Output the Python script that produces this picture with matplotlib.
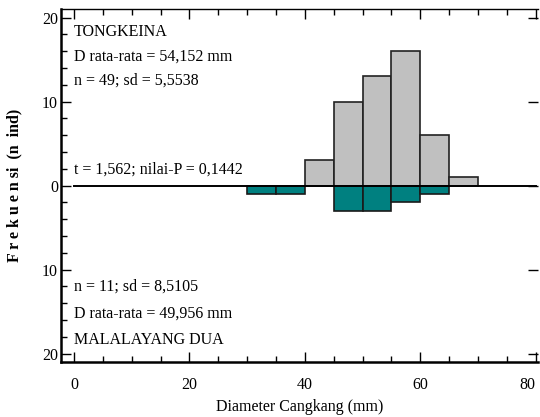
import matplotlib
matplotlib.use("Agg")
import matplotlib.pyplot as plt
import numpy as np
from matplotlib.ticker import MultipleLocator, FuncFormatter

# Data
bin_left = [30, 35, 40, 45, 50, 55, 60, 65]
tongkeina = [0, 0, 3, 10, 13, 16, 6, 1]
malalayang = [1, 1, 0, 3, 3, 2, 1, 0]
bin_width = 5

top_lines = ["TONGKEINA", "D rata-rata = 54,152 mm", "n = 49; sd = 5,5538"]
mid_line = "t = 1,562; nilai-P = 0,1442"
bot_lines = ["n = 11; sd = 8,5105", "D rata-rata = 49,956 mm", "MALALAYANG DUA"]

plt.rcParams['font.family'] = ['Liberation Serif', 'DejaVu Serif']

fig = plt.figure(figsize=(5.4, 4.17), dpi=100)
ax = fig.add_axes([0.1124, 0.132, 0.884, 0.846])

for xl, v in zip(bin_left, tongkeina):
    if v > 0:
        ax.bar(xl, v, width=bin_width, align='edge', color='#C0C0C0',
               edgecolor='#222222', linewidth=1.2, zorder=2)
for xl, v in zip(bin_left, malalayang):
    if v > 0:
        ax.bar(xl, -v, width=bin_width, align='edge', color='#008080',
               edgecolor='#1a1a1a', linewidth=1.2, zorder=2)

ax.plot([0, 80], [0, 0], color='black', linewidth=1.4, zorder=3)

ax.set_xlim(-2.3, 80.4)
ax.set_ylim(-21, 21)

ax.xaxis.set_major_locator(MultipleLocator(20))
ax.xaxis.set_minor_locator(MultipleLocator(5))
ax.yaxis.set_major_locator(MultipleLocator(10))
ax.yaxis.set_minor_locator(MultipleLocator(2))
ax.yaxis.set_major_formatter(FuncFormatter(lambda v, p: f"{abs(int(round(v)))}"))

ax.tick_params(axis='both', which='major', direction='in', length=7, width=1.0,
               labelsize=11.5, colors='black')
ax.tick_params(axis='both', which='minor', direction='in', length=4, width=1.0)
ax.tick_params(axis='x', which='both', top=True)
ax.tick_params(axis='y', which='major', right=True)
ax.tick_params(axis='y', which='minor', right=False)
ax.tick_params(axis='y', which='major', pad=2)
ax.tick_params(axis='x', which='major', pad=11)

for s in ['left', 'bottom']:
    ax.spines[s].set_linewidth(1.8)
ax.spines['top'].set_linewidth(1.0)
ax.spines['right'].set_visible(False)

# keep last x tick label inside the figure
for lbl in ax.get_xticklabels():
    pass

fs = 11.5
for y, t in zip([18.3, 15.3, 12.5], top_lines):
    ax.text(0, y, t, fontsize=fs, va='center', ha='left')
ax.text(0, 1.9, mid_line, fontsize=fs, va='center', ha='left')
for y, t in zip([-12.0, -15.2, -18.4], bot_lines):
    ax.text(0, y, t, fontsize=fs, va='center', ha='left')

ax.set_xlabel("Diameter Cangkang (mm)", fontsize=11.5, labelpad=4)
ax.set_ylabel("F r e k u e n si  (n  ind)", fontsize=11.5, fontweight='bold', labelpad=14)

fig.canvas.draw()
xt = ax.get_xticklabels()
for lbl in xt:
    if lbl.get_text() == '80':
        lbl.set_horizontalalignment('right')
        lbl.set_x(lbl.get_position()[0])

fig.savefig("out.png", dpi=100)
